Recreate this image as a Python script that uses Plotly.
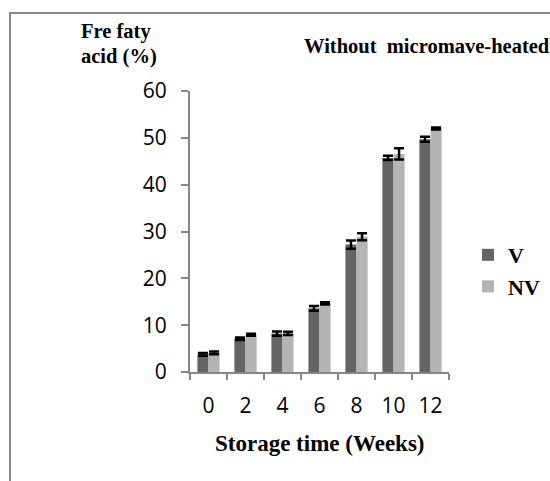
import plotly.graph_objects as go

weeks = ["0", "2", "4", "6", "8", "10", "12"]
v_values = [3.75, 7.1, 8.2, 13.6, 27.2, 45.7, 49.7]
v_errors = [0.3, 0.25, 0.45, 0.5, 0.9, 0.45, 0.55]
nv_values = [4.1, 7.95, 8.25, 14.65, 28.9, 46.55, 52.0]
nv_errors = [0.3, 0.2, 0.35, 0.25, 0.75, 1.2, 0.2]

W, H = 550, 481
L, R, T, B = 190, 101, 91, 109
PW, PH = W - L - R, H - T - B


def px(x):
    return (x - L) / PW


def py(y):
    return (H - B - y) / PH


AX = "#868686"
SERIF = "Liberation Serif"

fig = go.Figure()
fig.add_trace(go.Bar(
    name="V", x=weeks, y=v_values, marker_color="#646464", marker_line_width=0,
    error_y=dict(type="data", array=v_errors, color="black", thickness=2.5, width=5),
))
fig.add_trace(go.Bar(
    name="NV", x=weeks, y=nv_values, marker_color="#b4b4b4", marker_line_width=0,
    error_y=dict(type="data", array=nv_errors, color="black", thickness=2.5, width=5),
))


def label(text, x, y, size, anchor):
    return dict(text=text, xref="paper", yref="paper", x=px(x), y=py(y),
                xanchor=anchor, yanchor="middle", showarrow=False,
                borderpad=0, font=dict(family=SERIF, size=size, weight="bold"))


fig.update_layout(
    width=W, height=H,
    margin=dict(l=L, r=R, t=T, b=B, pad=0, autoexpand=False),
    paper_bgcolor="white", plot_bgcolor="white",
    barmode="group", bargap=0.4, bargroupgap=0,
    font=dict(family="Open Sans", size=21, color="black"),
    showlegend=True,
    legend=dict(x=px(468), y=py(234), xanchor="left", yanchor="top",
                font=dict(family=SERIF, size=22, color="black", weight="bold"),
                itemwidth=30, tracegroupgap=41, bgcolor="rgba(0,0,0,0)"),
    xaxis=dict(type="category", range=[-0.5, 6.5], showgrid=False,
               showline=True, linecolor=AX, linewidth=2,
               ticks="outside", tickson="boundaries", ticklen=6, tickwidth=2, tickcolor=AX,
               tickangle=0,
               tickfont=dict(family="Open Sans", size=21), ticklabelstandoff=14),
    yaxis=dict(range=[0, 60], dtick=10, showgrid=False, zeroline=False,
               showline=True, linecolor=AX, linewidth=2,
               ticks="outside", ticklen=7, tickwidth=2, tickcolor=AX,
               tickfont=dict(family="Open Sans", size=21), ticklabelstandoff=10),
    shapes=[dict(type="rect", xref="paper", yref="paper",
                 x0=px(10), x1=px(600), y0=py(540), y1=py(13),
                 line=dict(color="#888888", width=2), layer="below")],
    annotations=[
        label("Fre faty", 80, 31, 20.5, "left"),
        label("acid (%)", 80, 57, 20.5, "left"),
        label("Without  micromave-heated", 303, 46, 20.5, "left"),
        label("Storage time (Weeks)", 320, 443, 23, "center"),
    ],
)

fig.write_html("out.html")
